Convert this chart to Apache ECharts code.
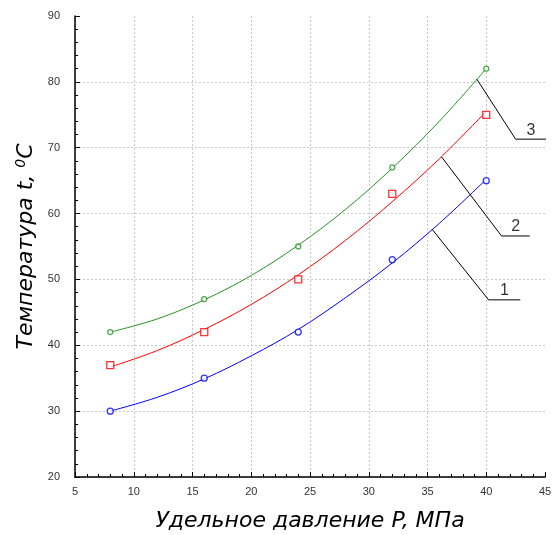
<!DOCTYPE html>
<html>
<head>
<meta charset="utf-8">
<script src="https://cdn.jsdelivr.net/npm/echarts@6/dist/echarts.min.js"></script>
<style>html,body{margin:0;padding:0;background:#fff;}#c{width:560px;height:535px;}</style>
</head>
<body>
<div id="c"></div>
<script>
// Measured points
var pressure = [8, 16, 24, 32, 40];
var temp1 = [30, 35, 42, 53, 65];
var temp2 = [37, 42, 50, 63, 75];
var temp3 = [42, 47, 55, 67, 82];

// Fitted curves
var curveX = [8, 12, 16, 20, 24, 28, 32, 36, 40];
var curve1 = [30.0, 32.1, 34.9, 38.4, 42.4, 47.2, 52.5, 58.5, 65.2];
var curve2 = [36.7, 39.2, 42.4, 46.2, 50.7, 55.9, 61.8, 68.3, 75.5];
var curve3 = [42.0, 44.0, 46.9, 50.6, 55.2, 60.6, 66.9, 74.0, 82.0];

// Callout leaders: [x, y] in data units (start on curve, elbow, end)
var callout1 = [[35.4, 57.6], [40.2, 46.9], [42.9, 46.9]];
var callout2 = [[36.2, 68.6], [41.3, 56.6], [43.7, 56.6]];
var callout3 = [[39.2, 80.4], [42.5, 71.3], [45.1, 71.3]];
var calloutLabels = ['1', '2', '3'];

var xTicks = {min: 5, max: 45, interval: 5};
var yTicks = {min: 20, max: 90, interval: 10};

function zip(xs, ys) { return xs.map(function (x, i) { return [x, ys[i]]; }); }

var chart = echarts.init(document.getElementById('c'), null, {renderer: 'canvas'});

var blue = '#0000ff', red = '#ff0000', green = '#259625';
var titleFont = 'DejaVu Sans, Arial';

function curveSeries(ys, color) {
  return {type: 'line', data: zip(curveX, ys), smooth: 0.35, symbol: 'none',
    lineStyle: {color: color, width: 1}, silent: true, z: 2};
}
function pointSeries(ys, color, symbol, size) {
  return {type: 'scatter', data: zip(pressure, ys), symbol: symbol, symbolSize: size,
    itemStyle: {color: '#fff', borderColor: color, borderWidth: 1.3}, z: 3};
}
function calloutSeries(pts, text) {
  var last = pts[pts.length - 1], prev = pts[pts.length - 2];
  return [{
    type: 'line', data: pts, symbol: 'none', clip: false, silent: true,
    lineStyle: {color: '#000', width: 1}, z: 4
  }, {
    type: 'scatter', data: [[(last[0] + prev[0]) / 2, last[1]]], symbolSize: 0, clip: false,
    label: {show: true, position: 'top', distance: 1, formatter: text,
      fontFamily: 'Arial, Liberation Sans', fontSize: 16, color: '#000'}, z: 4
  }];
}

var series = [
  curveSeries(curve1, blue), curveSeries(curve2, red), curveSeries(curve3, green),
  pointSeries(temp1, blue, 'circle', 6), pointSeries(temp2, red, 'rect', 7), pointSeries(temp3, green, 'circle', 5)
].concat(calloutSeries(callout1, calloutLabels[0]))
 .concat(calloutSeries(callout2, calloutLabels[1]))
 .concat(calloutSeries(callout3, calloutLabels[2]));

var gridLine = {show: true, showMaxLine: false, lineStyle: {color: '#c8c8c8', type: [2, 2], width: 1}};
var labelStyle = {fontFamily: 'Arial, Liberation Sans', fontSize: 11, color: '#333'};

chart.setOption({
  animation: false,
  backgroundColor: '#fff',
  grid: {left: 75, top: 16, right: 15, bottom: 58, containLabel: false, outerBoundsMode: 'none'},
  xAxis: {
    type: 'value', min: xTicks.min, max: xTicks.max, interval: xTicks.interval,
    axisLine: {show: true, lineStyle: {color: '#000', width: 1.5}},
    axisTick: {show: true, inside: true, length: 5, lineStyle: {color: '#000'}},
    minorTick: {show: true, splitNumber: 5, length: 3, lineStyle: {color: '#000'}},
    axisLabel: Object.assign({margin: 9}, labelStyle),
    splitLine: gridLine,
    name: 'Удельное давление P, МПа', nameLocation: 'middle', nameGap: 33,
    nameTextStyle: {fontFamily: titleFont, fontSize: 22, fontStyle: 'italic', color: '#000', padding: [0, 0, 0, 0]}
  },
  yAxis: {
    type: 'value', min: yTicks.min, max: yTicks.max, interval: yTicks.interval,
    axisLine: {show: true, lineStyle: {color: '#000', width: 1.5}},
    axisTick: {show: true, inside: true, length: 5, lineStyle: {color: '#000'}},
    minorTick: {show: true, splitNumber: 5, length: 3, lineStyle: {color: '#000'}},
    axisLabel: Object.assign({margin: 15}, labelStyle),
    splitLine: gridLine,
    name: '{n|Температура t, }{s|0}{n|C}', nameLocation: 'middle', nameGap: 35,
    nameTextStyle: {
      rich: {
        n: {fontFamily: titleFont, fontSize: 22, fontStyle: 'italic', color: '#000'},
        s: {fontFamily: titleFont, fontSize: 14, fontStyle: 'italic', color: '#000', verticalAlign: 'top', padding: [0, 0, 10, 0]}
      }
    }
  },
  series: series
});
</script>
</body>
</html>
